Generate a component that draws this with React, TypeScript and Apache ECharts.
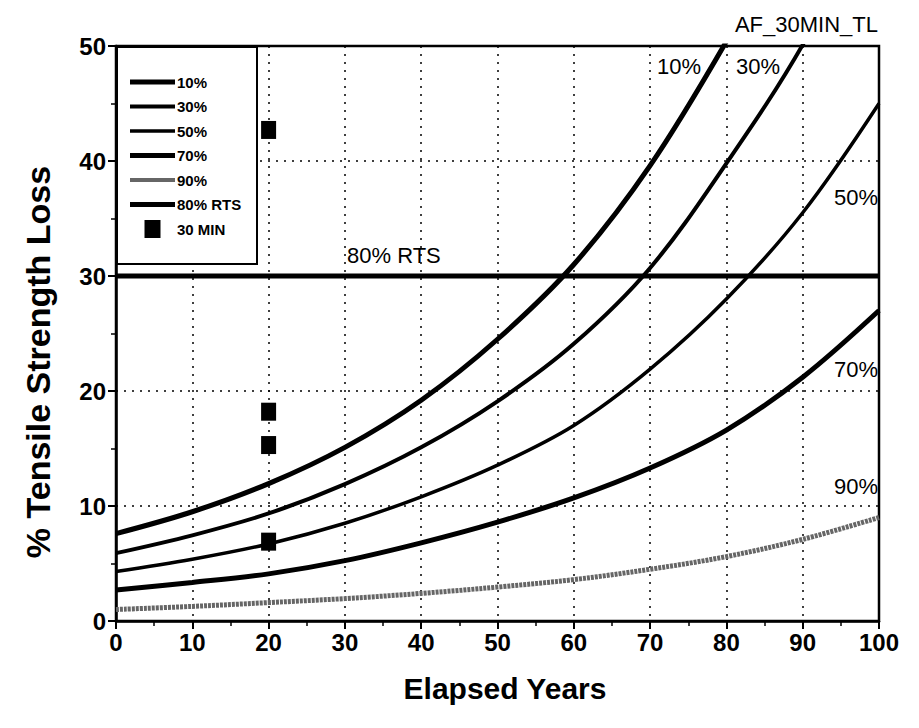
import React, { useEffect, useRef } from "react";
import * as echarts from "echarts";

// ---- data ----
const years = [0, 10, 20, 30, 40, 50, 60, 70, 80, 90, 100];
const loss10 = [7.6, 9.5, 11.95, 15.1, 19.2, 24.5, 31.0, 39.6, 50.4];
const loss30 = [5.9, 7.45, 9.35, 11.9, 15.1, 19.1, 24.1, 30.7, 39.8, 50.1, 63.0];
const loss50 = [4.3, 5.37, 6.7, 8.5, 10.8, 13.55, 17.0, 21.9, 28.0, 35.5, 45.0];
const loss70 = [2.7, 3.35, 4.1, 5.25, 6.8, 8.6, 10.7, 13.3, 16.6, 21.2, 27.0];
const loss90 = [1.0, 1.27, 1.6, 1.95, 2.4, 2.95, 3.6, 4.5, 5.6, 7.1, 9.0];
const rtsYears = [0, 100];
const rtsLevel = 30;
const minYears = [20, 20, 20, 20];
const minLoss = [42.7, 18.2, 15.3, 6.9];
const xTicks = { min: 0, max: 100, step: 10 };
const yTicks = { min: 0, max: 50, step: 10 };

const FONT = "'Liberation Sans', Arial, Helvetica, sans-serif";

function pairs(xs: number[], ys: number[]) {
  return ys.map((y, i) => [xs[i], y]);
}

export default function App() {
  const ref = useRef<HTMLDivElement>(null);
  useEffect(() => {
    if (!ref.current) return;
    const chart = echarts.init(ref.current, null, { renderer: "svg" });
    const grid = { left: 116, right: 40, top: 46, bottom: 107 };
    const splitLine = {
      show: true,
      lineStyle: { color: "#000", width: 1.5, type: [2, 6] as any },
    };
    const lineSeries = (name: string, ys: number[], width: number, color = "#000", type: any = "solid") => ({
      name,
      type: "line",
      data: pairs(years, ys),
      smooth: 0.35,
      symbol: "none",
      clip: true,
      lineStyle: { color, width, type },
      itemStyle: { color },
      z: 3,
    });
    const lineIcon = (h: number) => `path://M0 0H45V${h}H0Z`;
    chart.setOption({
      animation: false,
      backgroundColor: "#fff",
      grid: { ...grid, show: true, borderColor: "#000", borderWidth: 2.5, backgroundColor: "transparent" },
      xAxis: {
        type: "value",
        min: xTicks.min,
        max: xTicks.max,
        interval: xTicks.step,
        axisLine: { show: true, lineStyle: { color: "#000", width: 2.5 } },
        axisTick: { show: true, length: 8, lineStyle: { color: "#000", width: 2 } },
        minorTick: { show: true, splitNumber: 2, length: 5, lineStyle: { color: "#000", width: 1.5 } },
        axisLabel: { color: "#000", fontFamily: FONT, fontWeight: "bold", fontSize: 24, margin: 9 },
        splitLine,
      },
      yAxis: {
        type: "value",
        min: yTicks.min,
        max: yTicks.max,
        interval: yTicks.step,
        axisLine: { show: true, lineStyle: { color: "#000", width: 2.5 } },
        axisTick: { show: true, length: 8, lineStyle: { color: "#000", width: 2 } },
        minorTick: { show: true, splitNumber: 2, length: 5, lineStyle: { color: "#000", width: 1.5 } },
        axisLabel: { color: "#000", fontFamily: FONT, fontWeight: "bold", fontSize: 24, margin: 10 },
        splitLine,
      },
      legend: {
        orient: "vertical",
        left: 130,
        top: 73,
        padding: 0,
        itemWidth: 45,
        itemHeight: 18,
        itemGap: 6.5,
        z: 10,
        itemStyle: { borderWidth: 0 },
        textStyle: {
          color: "#000",
          fontFamily: FONT,
          fontWeight: "bold",
          fontSize: 15,
          lineHeight: 18,
          padding: [0, 0, 0, -3],
        },
        data: [
          { name: "10%", icon: lineIcon(5) },
          { name: "30%", icon: lineIcon(4) },
          { name: "50%", icon: lineIcon(3.5) },
          { name: "70%", icon: lineIcon(5) },
          { name: "90%", icon: lineIcon(4) },
          { name: "80% RTS", icon: lineIcon(5) },
          { name: "30 MIN", icon: "path://M0 0H16V18H0Z" },
        ],
      },
      graphic: [
        {
          type: "rect",
          z: 8,
          shape: { x: 117, y: 47, width: 140, height: 217 },
          style: { fill: "#fff", stroke: "#000", lineWidth: 2 },
        },
        {
          type: "text",
          x: 878,
          y: 35,
          style: { text: "AF_30MIN_TL", font: `22px ${FONT}`, fill: "#000", align: "right", verticalAlign: "bottom" },
        },
        { type: "text", x: 657, y: 77, style: { text: "10%", font: `22px ${FONT}`, fill: "#000", verticalAlign: "bottom" } },
        { type: "text", x: 736, y: 77, style: { text: "30%", font: `22px ${FONT}`, fill: "#000", verticalAlign: "bottom" } },
        { type: "text", x: 878, y: 208, style: { text: "50%", font: `22px ${FONT}`, fill: "#000", align: "right", verticalAlign: "bottom" } },
        { type: "text", x: 878, y: 380, style: { text: "70%", font: `22px ${FONT}`, fill: "#000", align: "right", verticalAlign: "bottom" } },
        { type: "text", x: 878, y: 497, style: { text: "90%", font: `22px ${FONT}`, fill: "#000", align: "right", verticalAlign: "bottom" } },
        { type: "text", x: 347, y: 266, style: { text: "80% RTS", font: `22px ${FONT}`, fill: "#000", verticalAlign: "bottom" } },
        {
          type: "text",
          x: 505,
          y: 688,
          style: { text: "Elapsed Years", font: `bold 30px ${FONT}`, fill: "#000", align: "center", verticalAlign: "middle" },
        },
        {
          type: "text",
          x: 38,
          y: 362,
          rotation: Math.PI / 2,
          style: { text: "% Tensile Strength Loss", font: `bold 34px ${FONT}`, fill: "#000", align: "center", verticalAlign: "middle" },
        },
      ],
      series: [
        lineSeries("10%", loss10, 5),
        lineSeries("30%", loss30, 4),
        lineSeries("50%", loss50, 3.5),
        lineSeries("70%", loss70, 5),
        lineSeries("90%", loss90, 5, "#666", [3, 1]),
        {
          name: "80% RTS",
          type: "line",
          data: rtsYears.map((x) => [x, rtsLevel]),
          symbol: "none",
          lineStyle: { color: "#000", width: 5 },
          itemStyle: { color: "#000" },
          z: 3,
        },
        {
          name: "30 MIN",
          type: "scatter",
          data: pairs(minYears, minLoss),
          symbol: "rect",
          symbolSize: [15, 18],
          itemStyle: { color: "#000", opacity: 1 },
          z: 4,
        },
      ],
    });
    return () => chart.dispose();
  }, []);
  return <div ref={ref} style={{ position: "fixed", left: 0, top: 0, width: 919, height: 728 }} />;
}
